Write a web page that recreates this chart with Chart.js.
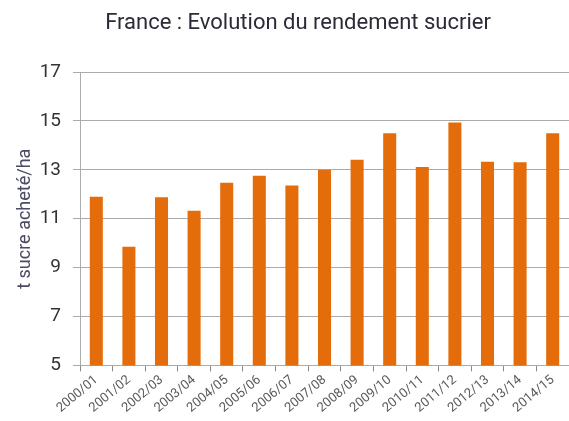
<!DOCTYPE html>
<html>
<head>
<meta charset="utf-8">
<script src="https://cdn.jsdelivr.net/npm/chart.js@4"></script>
<style>
  html, body { margin: 0; padding: 0; background: #fff; }
  #wrap { width: 569px; height: 421px; }
</style>
</head>
<body>
<div id="wrap"><canvas id="chart"></canvas></div>
<script>
const campaigns = ['2000/01','2001/02','2002/03','2003/04','2004/05','2005/06','2006/07','2007/08',
                   '2008/09','2009/10','2010/11','2011/12','2012/13','2013/14','2014/15'];
const rendement = [11.9, 9.85, 11.88, 11.33, 12.47, 12.76, 12.36, 13.0, 13.41, 14.5, 13.11, 14.93, 13.33, 13.31, 14.5];
const yTicks = [5, 7, 9, 11, 13, 15, 17];
const chartTitle = 'France : Evolution du rendement sucrier';

const gridGrey = '#ababab';

// title sits a bit right of the canvas centre, so it is drawn by hand
const titlePlugin = {
    id: 'ownTitle',
    afterDraw(chart) {
        const ctx = chart.ctx;
        ctx.save();
        ctx.font = '22px Roboto';
        ctx.fillStyle = '#2b2b38';
        ctx.textAlign = 'center';
        ctx.textBaseline = 'middle';
        ctx.fillText(chartTitle, 298, 23);
        ctx.restore();
    }
};

new Chart(document.getElementById('chart'), {
    type: 'bar',
    data: {
        labels: campaigns,
        datasets: [{
            label: 't sucre acheté/ha',
            data: rendement,
            backgroundColor: '#E46C0A',
            barPercentage: 0.4,
            categoryPercentage: 1
        }]
    },
    options: {
        responsive: true,
        maintainAspectRatio: false,
        animation: false,
        layout: { padding: { top: 72, right: 0, bottom: 4, left: 15 } },
        plugins: {
            legend: { display: false },
            tooltip: { enabled: false },
            title: { display: false }
        },
        scales: {
            x: {
                offset: true,
                grid: { offset: true, drawOnChartArea: false, color: '#888', tickLength: 6 },
                border: { color: gridGrey },
                ticks: {
                    minRotation: 40, maxRotation: 40,
                    color: '#5a5a5a',
                    font: { family: 'Roboto', size: 13 },
                    padding: 1
                }
            },
            y: {
                min: 5, max: 17,
                afterBuildTicks: axis => { axis.ticks = yTicks.map(v => ({ value: v })); },
                afterFit: axis => { axis.width = 65; },
                grid: { color: gridGrey, tickLength: 7 },
                border: { color: gridGrey },
                ticks: {
                    color: '#333',
                    font: { family: 'Roboto', size: 19 },
                    padding: 12
                },
                title: {
                    display: true,
                    text: 't sucre acheté/ha',
                    color: '#4b4b63',
                    font: { family: 'Roboto', size: 18 },
                    padding: { top: 0, bottom: 0 }
                }
            }
        }
    },
    plugins: [titlePlugin]
});
</script>
</body>
</html>
